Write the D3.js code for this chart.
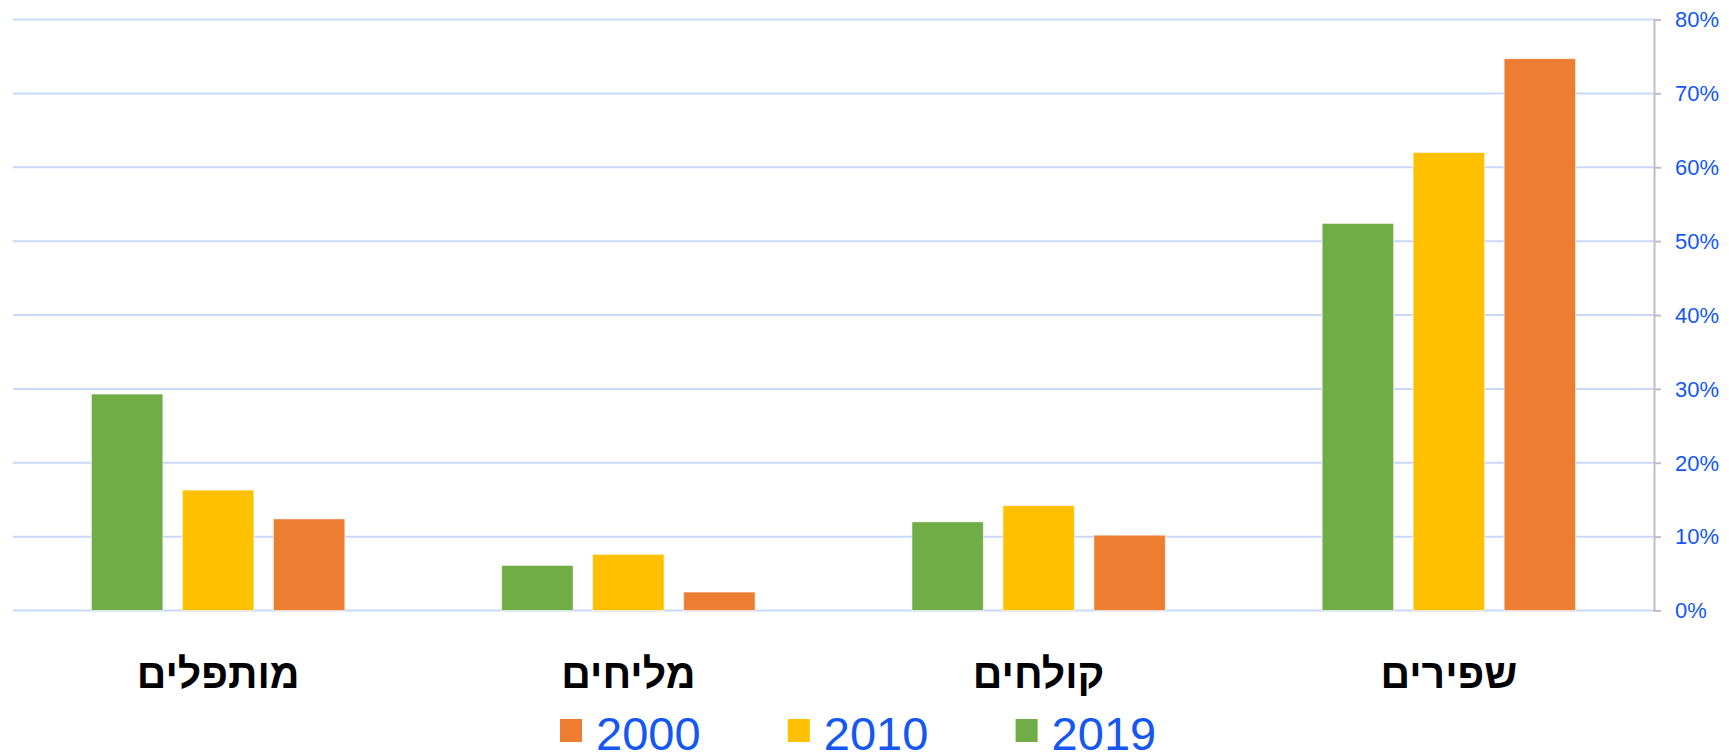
<!DOCTYPE html>
<html>
<head>
<meta charset="utf-8">
<script src="https://cdn.jsdelivr.net/npm/d3@7"></script>
<style>
  body { margin: 0; background: #fff; }
  text { font-family: "Liberation Sans", Arial, sans-serif; }
</style>
</head>
<body>
<script>
// categories in sheet order (the chart is drawn right-to-left)
const categories = ['שפירים', 'קולחים', 'מליחים', 'מותפלים']
const years = ['2000', '2010', '2019']
const colors = ['#ED7D31', '#FFC000', '#70AD47']

// percent values per year, same order as categories
const v2000 = [74.7, 10.2, 2.5, 12.4]
const v2010 = [62.0, 14.2, 7.6, 16.3]
const v2019 = [52.4, 12.0, 6.1, 29.3]
const series = [v2000, v2010, v2019]

const yTicks = [0, 10, 20, 30, 40, 50, 60, 70, 80]

const w = 1729
const h = 753
const plotL = 13
const plotR = 1654
const plotT = 19.5
const plotB = 610.5

const svg = d3.select('body')
  .append('svg')
  .attr('width', w)
  .attr('height', h)

// right to left
const xScale = d3.scaleBand()
  .domain(categories)
  .range([plotR, plotL])

const groupW = 253.5
const inner = d3.scaleBand()
  .domain(years)
  .range([groupW, 0])
  .paddingInner(0.2143)

const yScale = d3.scaleLinear()
  .domain([0, 80])
  .range([plotB, plotT])

// gridlines
svg.append('g')
  .selectAll('line')
  .data(yTicks)
  .enter()
  .append('line')
  .attr('x1', plotL)
  .attr('x2', plotR)
  .attr('y1', d => yScale(d))
  .attr('y2', d => yScale(d))
  .attr('stroke', '#C9D8F7')
  .attr('stroke-width', 2)

// bars
const rows = []
years.forEach((yr, i) => {
  categories.forEach((c, j) => rows.push({ cat: c, year: yr, value: series[i][j], color: colors[i] }))
})

svg.append('g')
  .selectAll('rect')
  .data(rows)
  .enter()
  .append('rect')
  .attr('x', d => xScale(d.cat) + (xScale.bandwidth() - groupW) / 2 + inner(d.year))
  .attr('y', d => yScale(d.value))
  .attr('width', inner.bandwidth())
  .attr('height', d => plotB - yScale(d.value))
  .attr('fill', d => d.color)
  .attr('stroke', '#ffffff')
  .attr('stroke-opacity', 0.6)
  .attr('stroke-width', 1)

// value axis on the right
const yAxis = d3.axisRight(yScale)
  .tickValues(yTicks)
  .tickSize(7)
  .tickPadding(14)
  .tickFormat(d => d + '%')

const ay = svg.append('g')
  .attr('transform', 'translate(' + plotR + ',0)')
  .call(yAxis)

ay.select('.domain').attr('stroke', '#BFBFBF').attr('stroke-width', 2)
ay.selectAll('.tick line').attr('stroke', '#BFBFBF').attr('stroke-width', 2)
ay.selectAll('.tick text')
  .attr('fill', '#1457F2')
  .style('font-size', '22px')
  .style('font-family', '"Liberation Sans", Arial, sans-serif')
  .attr('dy', '0.33em')

// category labels
svg.append('g')
  .selectAll('text')
  .data(categories)
  .enter()
  .append('text')
  .attr('x', d => xScale(d) + xScale.bandwidth() / 2)
  .attr('y', 688)
  .attr('text-anchor', 'middle')
  .attr('direction', 'rtl')
  .style('font-size', '41px')
  .style('font-weight', 'bold')
  .attr('fill', '#000')
  .text(d => d)

// legend
const lg = svg.append('g')
  .selectAll('g')
  .data(years)
  .enter()
  .append('g')
  .attr('transform', (d, i) => 'translate(' + (560 + i * 227.8) + ',0)')

lg.append('rect')
  .attr('x', 0)
  .attr('y', 719)
  .attr('width', 22)
  .attr('height', 23)
  .attr('fill', (d, i) => colors[i])

lg.append('text')
  .attr('x', 36)
  .attr('y', 750)
  .attr('fill', '#1457F2')
  .style('font-size', '47px')
  .text(d => d)
</script>
</body>
</html>
